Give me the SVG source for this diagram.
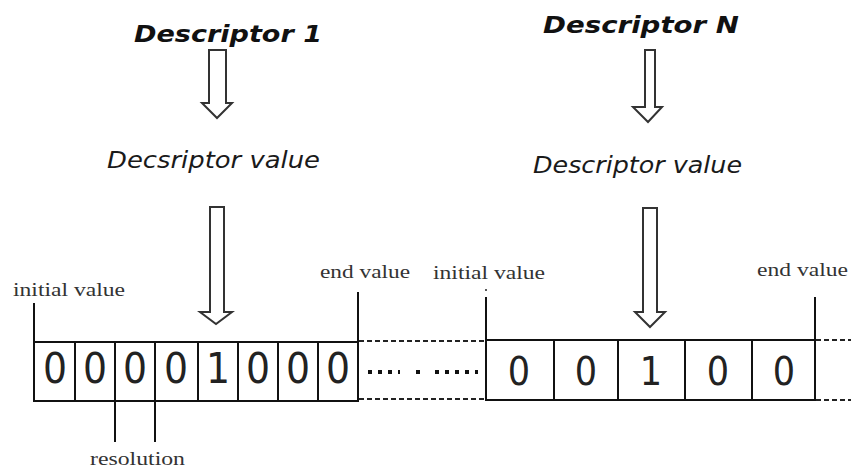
<svg xmlns="http://www.w3.org/2000/svg" width="851" height="469" viewBox="0 0 851 469">
  <style>
    .title { font-family: "DejaVu Sans", sans-serif; font-weight: bold; font-style: italic; font-size: 23px; fill: #111; }
    .value { font-family: "DejaVu Sans", sans-serif; font-stretch: condensed; font-style: italic; font-size: 23px; fill: #1a1a1a; }
    .lbl { font-family: "Liberation Serif", serif; font-size: 18px; fill: #333; }
    .bit { font-family: "DejaVu Sans", sans-serif; font-stretch: condensed; font-size: 42px; fill: #222; text-anchor: middle; }
    .bit-n { font-size: 39px; }
    .arrow { fill: #fff; stroke: #333; stroke-width: 2; stroke-linejoin: miter; }
    .line { stroke: #111; stroke-width: 2; fill: none; }
    .dash { stroke: #222; stroke-width: 2; stroke-dasharray: 5 3; fill: none; }
    .dots { stroke: #111; stroke-width: 4; stroke-dasharray: 4 6; fill: none; }
  </style>

  <rect width="851" height="469" fill="#fff"/>

  <!-- left descriptor column -->
  <g id="descriptor-1">
    <text class="title" x="134" y="42" textLength="188" lengthAdjust="spacingAndGlyphs">Descriptor 1</text>
  </g>
  <g id="descriptor-1-value">
    <text class="value" x="107" y="168" textLength="213" lengthAdjust="spacingAndGlyphs">Decsriptor value</text>
  </g>

  <!-- right descriptor column -->
  <g id="descriptor-n">
    <text class="title" x="543" y="33" textLength="196" lengthAdjust="spacingAndGlyphs">Descriptor N</text>
  </g>
  <g id="descriptor-n-value">
    <text class="value" x="533" y="173" textLength="209" lengthAdjust="spacingAndGlyphs">Descriptor value</text>
  </g>

  <!-- hollow block arrows -->
  <g id="connectors">
    <polygon class="arrow" points="209,50 226,50 226,103 232,103 217,118 202,103 209,103"/>
    <polygon class="arrow" points="210,207 224,207 224,312 232,312 216,324 200,312 210,312"/>
    <polygon class="arrow" points="645,50 655,50 655,107 662,107 648,122 633,107 645,107"/>
    <polygon class="arrow" points="643,208 657,208 657,312 665,312 650,327 635,312 643,312"/>
  </g>

  <!-- first bit array -->
  <g id="bit-array-1">
    <rect class="line" x="34" y="342" width="324" height="59"/>
    <path class="line" d="M75,342V401M115,342V401M155,342V401M198,342V401M238,342V401M278,342V401M318,342V401"/>
    <text class="bit" x="55" y="383">0</text>
    <text class="bit" x="95" y="383">0</text>
    <text class="bit" x="135" y="383">0</text>
    <text class="bit" x="176" y="383">0</text>
    <text class="bit" x="218" y="383">1</text>
    <text class="bit" x="258" y="383">0</text>
    <text class="bit" x="298" y="383">0</text>
    <text class="bit" x="338" y="383">0</text>
    <!-- range markers -->
    <path class="line" d="M34,303V342M358,292V342M115,401V442M155,401V442"/>
    <text class="lbl" x="13" y="296" textLength="112" lengthAdjust="spacingAndGlyphs">initial value</text>
    <text class="lbl" x="320" y="278" textLength="90" lengthAdjust="spacingAndGlyphs">end value</text>
    <text class="lbl" x="90" y="465" textLength="95" lengthAdjust="spacingAndGlyphs">resolution</text>
  </g>

  <!-- elided middle section -->
  <g id="gap">
    <path class="dash" d="M359,341H486M359,399H486"/>
    <path class="dots" d="M368,372H400"/>
    <path class="dots" d="M416,372H421"/>
    <path class="dots" d="M435,372H478"/>
  </g>

  <!-- last bit array -->
  <g id="bit-array-n">
    <rect class="line" x="486" y="340" width="329" height="60"/>
    <path class="line" d="M554,340V400M618,340V400M685,340V400M752,340V400"/>
    <text class="bit bit-n" x="519" y="385">0</text>
    <text class="bit bit-n" x="586" y="385">0</text>
    <text class="bit bit-n" x="651" y="385">1</text>
    <text class="bit bit-n" x="718" y="385">0</text>
    <text class="bit bit-n" x="784" y="385">0</text>
    <path class="line" d="M486,297V340M815,297V340"/>
    <circle cx="486" cy="290" r="1" fill="#222"/>
    <path class="dash" d="M816,340H851M816,400H851"/>
    <text class="lbl" x="433" y="279" textLength="112" lengthAdjust="spacingAndGlyphs">initial value</text>
    <text class="lbl" x="757" y="276" textLength="91" lengthAdjust="spacingAndGlyphs">end value</text>
  </g>
</svg>
